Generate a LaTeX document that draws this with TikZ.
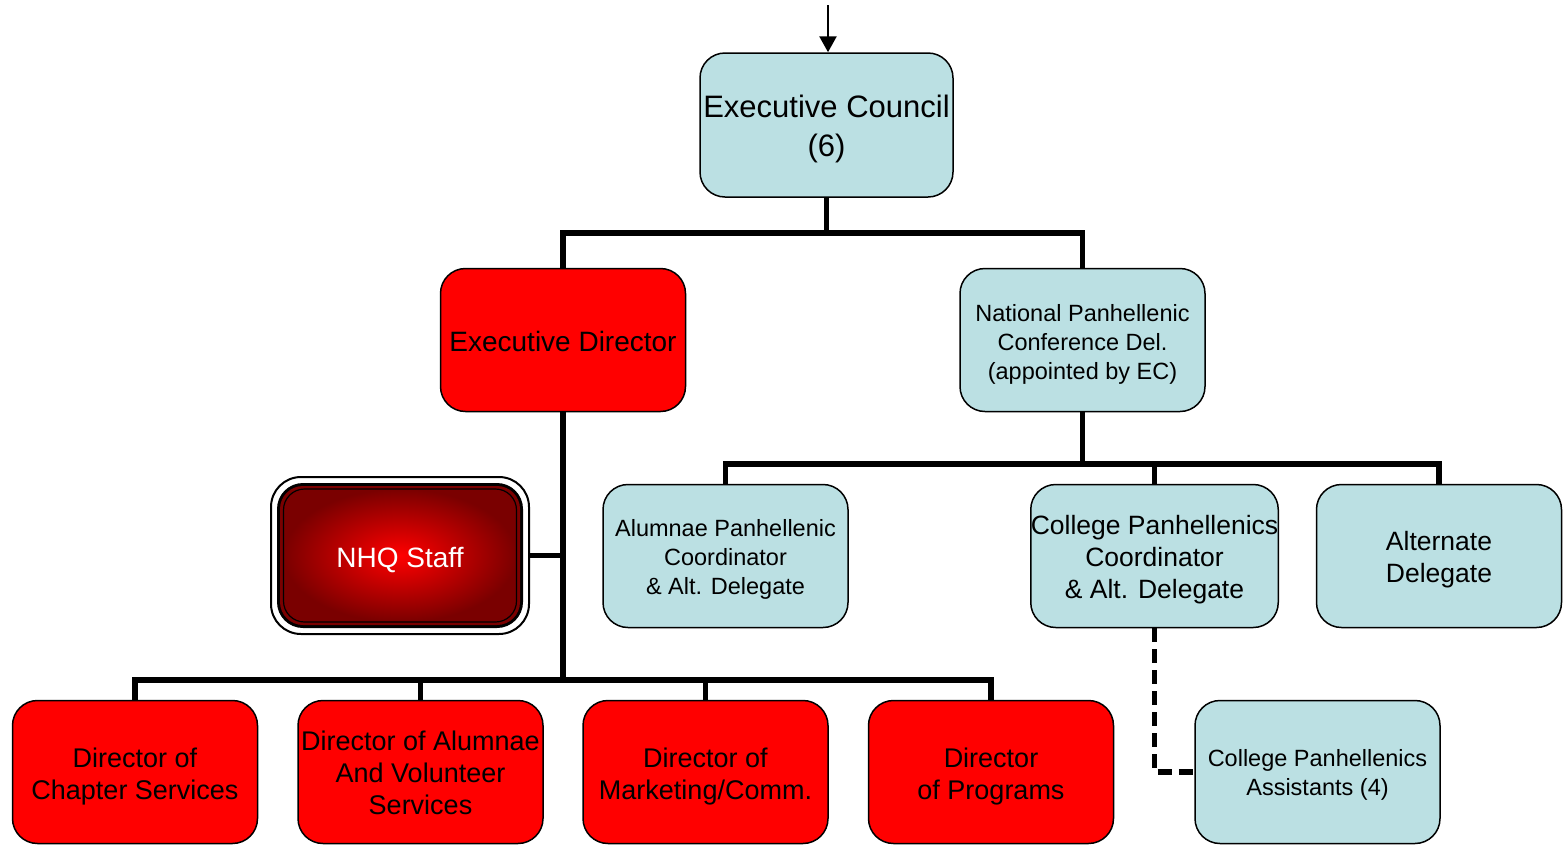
\documentclass[tikz,border=0pt]{standalone}
\usepackage{fontspec}
\setmainfont{Liberation Sans}
\usetikzlibrary{arrows.meta}
\definecolor{lblue}{HTML}{BBE0E3}
\definecolor{dred}{HTML}{7A0000}
\newcommand{\tstrut}[1]{\rule{0pt}{#1}}
\begin{document}
\begin{tikzpicture}[x=1pt,y=-1pt,
  box/.style={draw=black, line width=1.5pt, rounded corners=25pt, minimum width=245pt, minimum height=143pt, inner sep=0pt, align=center},
  bluebox/.style={box, fill=lblue},
  redbox/.style={box, fill=red},
  bus/.style={line width=5.5pt, line cap=butt},
  dashbus/.style={line width=5.5pt, dash pattern=on 14pt off 7pt},
  fa/.style={font=\fontsize{31}{39}\selectfont},
  fb/.style={font=\fontsize{27}{32}\selectfont},
  fc/.style={font=\fontsize{23.5}{29}\selectfont}]
\useasboundingbox (0,0) rectangle (1564,844);

% top arrow
\coordinate (top) at (828,5);
\node[bluebox, fa, minimum width=253pt, minimum height=144pt] (ec) at (826.5,125) {\tstrut{30.6pt}Executive Council\\(6)};
\draw[line width=2.5pt, -{Triangle[length=16pt,width=17pt]}] (top) -- (top |- ec.north);

\node[redbox, font=\fontsize{28}{33}\selectfont] (ed) at (563,340) {\tstrut{22.4pt}Executive Director};
\node[bluebox, fc] (npc) at (1082.5,340) {\tstrut{25.2pt}National Panhellenic\\Conference Del.\\(appointed by EC)};

% NHQ staff
\node[draw=black, line width=2pt, fill=white, rounded corners=30pt, minimum width=258pt, minimum height=157pt, inner sep=0pt] (nhqo) at (400,555.5) {};
\fill[black, rounded corners=26pt] (277,483) rectangle (523,628);
\fill[dred, rounded corners=23pt] (280,486) rectangle (520,625);
\node[draw=black, line width=1.2pt, rounded corners=21pt, minimum width=233pt, minimum height=133pt, inner sep=0pt,
  inner color=red, outer color=dred, text=white, font=\fontsize{28}{33}\selectfont] (nhq) at (400,555.5) {\tstrut{28.4pt}NHQ Staff};

\node[bluebox, fc] (apc) at (725.5,556) {\tstrut{23.2pt}Alumnae Panhellenic\\Coordinator\\\& Alt. Delegate};
\node[bluebox, font=\fontsize{26.5}{32}\selectfont] (cpc) at (1154.5,556) {\tstrut{27.3pt}College Panhellenics\\Coordinator\\\& Alt. Delegate};
\node[bluebox, font=\fontsize{26.5}{32}\selectfont] (alt) at (1439,556) {\tstrut{27.3pt}Alternate\\Delegate};

\node[redbox, fb] (d1) at (135,772) {\tstrut{27.7pt}Director of\\Chapter Services};
\node[redbox, fb] (d2) at (420.5,772) {\tstrut{21.7pt}Director of Alumnae\\And Volunteer\\Services};
\node[redbox, fb] (d3) at (705.5,772) {\tstrut{27.7pt}Director of\\Marketing/Comm.};
\node[redbox, fb] (d4) at (991,772) {\tstrut{27.7pt}Director\\of Programs};
\node[bluebox, fc] (cpa) at (1317.5,772) {\tstrut{23.2pt}College Panhellenics\\Assistants (4)};

% connectors
\coordinate (j1) at (826.5,233);
\draw[bus] (ec.south) -- (j1);
\draw[bus] (j1) -| (ed.north);
\draw[bus] (j1) -| (npc.north);

\coordinate (j2) at (563,680);
\draw[bus] (ed.south) -- (j2);
\draw[bus] (nhqo.east) -- (ed.south |- nhqo.east);
\draw[bus] (j2) -| (d1.north);
\draw[bus] (j2) -| (d4.north);
\draw[bus] (d2.north) -- (d2.north |- j2);
\draw[bus] (d3.north) -- (d3.north |- j2);

\coordinate (j3) at (1082.5,464);
\draw[bus] (npc.south) -- (j3);
\draw[bus] (j3) -| (apc.north);
\draw[bus] (j3) -| (alt.north);
\draw[bus] (cpc.north) -- (cpc.north |- j3);

\draw[dashbus] (cpc.south) |- (cpa.west);
\end{tikzpicture}
\end{document}
